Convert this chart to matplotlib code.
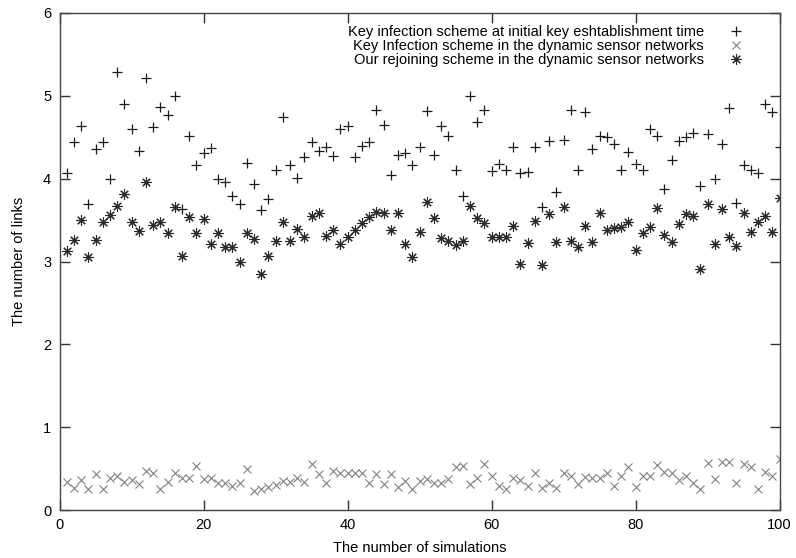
import matplotlib
matplotlib.use('Agg')
import matplotlib.pyplot as plt
import numpy as np

plt.rcParams['font.family'] = ['Liberation Sans', 'DejaVu Sans']

# number of simulation runs
sims = np.arange(1, 101)

# key infection at initial key establishment time (+)
key_initial = [4.07, 4.44, 4.64, 3.70, 4.36, 4.44, 4.00, 5.29, 4.90, 4.60,
               4.33, 5.21, 4.62, 4.86, 4.77, 5.00, 3.63, 4.52, 4.16, 4.31,
               4.37, 4.00, 3.96, 3.79, 3.70, 4.19, 3.93, 3.62, 3.76, 4.10,
               4.75, 4.16, 4.01, 4.26, 4.44, 4.34, 4.38, 4.27, 4.60, 4.64,
               4.26, 4.39, 4.44, 4.83, 4.65, 4.04, 4.29, 4.31, 4.16, 4.38,
               4.82, 4.28, 4.64, 4.52, 4.11, 3.79, 5.00, 4.68, 4.83, 4.09,
               4.18, 4.11, 4.38, 4.07, 4.08, 4.38, 3.66, 4.46, 3.84, 4.47,
               4.83, 4.11, 4.80, 4.36, 4.52, 4.50, 4.42, 4.10, 4.32, 4.18,
               4.10, 4.60, 4.52, 3.88, 4.22, 4.46, 4.50, 4.55, 3.91, 4.54,
               4.00, 4.42, 4.85, 3.71, 4.16, 4.11, 4.07, 4.90, 4.81, 4.38]

# key infection in the dynamic sensor networks (x)
key_dynamic = [0.34, 0.27, 0.36, 0.25, 0.43, 0.25, 0.39, 0.41, 0.34, 0.36,
               0.31, 0.47, 0.45, 0.25, 0.34, 0.45, 0.39, 0.39, 0.53, 0.37,
               0.39, 0.32, 0.32, 0.29, 0.33, 0.49, 0.23, 0.25, 0.28, 0.30,
               0.35, 0.34, 0.39, 0.34, 0.55, 0.44, 0.33, 0.47, 0.45, 0.45,
               0.45, 0.45, 0.33, 0.43, 0.31, 0.43, 0.28, 0.35, 0.25, 0.35,
               0.37, 0.33, 0.33, 0.37, 0.52, 0.53, 0.31, 0.39, 0.55, 0.41,
               0.29, 0.25, 0.39, 0.36, 0.29, 0.45, 0.26, 0.33, 0.27, 0.45,
               0.41, 0.31, 0.40, 0.39, 0.39, 0.45, 0.29, 0.41, 0.52, 0.28,
               0.41, 0.41, 0.54, 0.46, 0.45, 0.36, 0.41, 0.32, 0.25, 0.57,
               0.37, 0.58, 0.58, 0.33, 0.55, 0.52, 0.25, 0.46, 0.41, 0.62]

# our rejoining scheme (*)
rejoin = [3.13, 3.26, 3.50, 3.06, 3.26, 3.48, 3.56, 3.67, 3.81, 3.48,
          3.37, 3.96, 3.44, 3.48, 3.35, 3.66, 3.07, 3.54, 3.35, 3.51,
          3.21, 3.35, 3.17, 3.17, 2.99, 3.34, 3.27, 2.85, 3.07, 3.25,
          3.48, 3.25, 3.39, 3.30, 3.55, 3.58, 3.31, 3.38, 3.21, 3.29,
          3.38, 3.47, 3.54, 3.60, 3.58, 3.38, 3.58, 3.21, 3.06, 3.36,
          3.72, 3.52, 3.28, 3.25, 3.20, 3.25, 3.67, 3.53, 3.47, 3.30,
          3.30, 3.30, 3.43, 2.97, 3.22, 3.49, 2.96, 3.57, 3.23, 3.66,
          3.25, 3.17, 3.43, 3.24, 3.58, 3.38, 3.40, 3.42, 3.48, 3.14,
          3.35, 3.42, 3.64, 3.32, 3.23, 3.45, 3.57, 3.55, 2.91, 3.69,
          3.21, 3.63, 3.29, 3.19, 3.58, 3.36, 3.48, 3.55, 3.36, 3.77]

labels = ['Key infection scheme at initial key eshtablishment time',
          'Key Infection scheme in the dynamic sensor networks',
          'Our rejoining scheme in the dynamic sensor networks']

fig = plt.figure(figsize=(7.96, 5.58), dpi=100)
ax = fig.add_axes([59.5/796, 1-510/558, 720/796, 497/558])

ax.plot(sims, key_initial, linestyle='none', marker='+', ms=7.5, mew=0.9,
        color='#1a1a1a', label=labels[0])
ax.plot(sims, key_dynamic, linestyle='none', marker='x', ms=5.5, mew=0.8,
        color='#808080', label=labels[1])
ax.plot(sims, rejoin, linestyle='none', marker=(8, 2, 0), ms=7.5, mew=0.8,
        color='#2a2a2a', label=labels[2])

ax.set_xlim(0, 100)
ax.set_ylim(0, 6)
ax.set_xticks(range(0, 101, 20))
ax.set_yticks(range(0, 7))
ax.tick_params(direction='in', length=7, width=1, top=True, right=True,
               labelsize=10.5, color='#333333', pad=6)
for s in ax.spines.values():
    s.set_color('#444444')
    s.set_linewidth(1)

ax.set_xlabel('The number of simulations', fontsize=10.5, labelpad=6)
ax.set_ylabel('The number of links', fontsize=10.5, labelpad=12)

leg = ax.legend(loc='upper right', bbox_to_anchor=(0.952, 0.975), frameon=False,
                markerfirst=False, fontsize=10.5, labelspacing=0.0,
                handlelength=1.2, handletextpad=1.6, borderpad=0,
                borderaxespad=0)

fig.savefig('out.png', dpi=100)
